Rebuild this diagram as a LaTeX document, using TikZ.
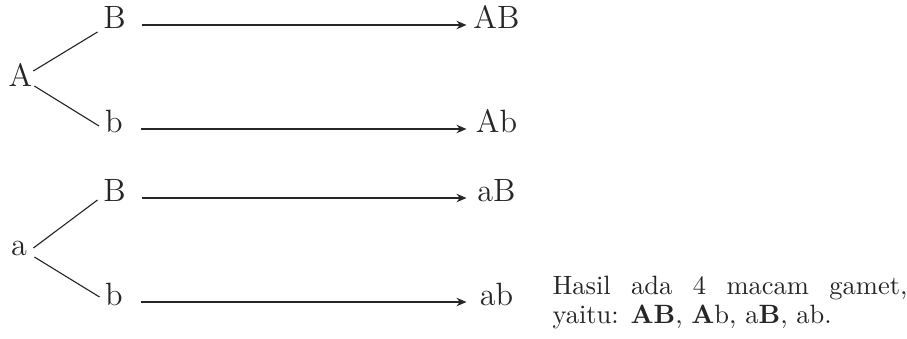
\documentclass[tikz,border=0pt]{standalone}
\usepackage{tikz}
\usetikzlibrary{arrows.meta}

\begin{document}
\begin{tikzpicture}[
  x=0.4pt, y=0.4pt,
  lbl/.style={font=\fontsize{12.9pt}{15pt}\selectfont, inner sep=0pt, anchor=base, text=black!85},
  src/.style={lbl, minimum width=21.2pt},
  gam/.style={lbl, minimum width=23.6pt},
  garis/.style={draw=black!85, line width=0.45pt},
  >={Stealth[length=4pt, width=3.4pt]}
]
\useasboundingbox (0,0) rectangle (907,-339);

% Induk A dan a
\node[lbl] (A) at (20.5,-87) {A};
\node[src] (B1) at (114.5,-29) {B};
\node[src] (b1) at (114,-133) {b};
\node[gam] (AB) at (496.5,-29) {AB};
\node[gam] (Ab) at (496.5,-133) {Ab};

\node[lbl] (a) at (19,-255) {a};
\node[src] (B2) at (114.5,-202) {B};
\node[src] (b2) at (114,-306) {b};
\node[gam] (aB) at (496.5,-202) {aB};
\node[gam] (ab) at (496.5,-306) {ab};

% Cabang
\draw[garis] ([shift={(0.5,16)}]A.base east) -- ([shift={(10,-3)}]B1.base west);
\draw[garis] ([shift={(1.5,1)}]A.base east) -- ([shift={(12,7)}]b1.base west);
\draw[garis] ([shift={(6,7)}]a.base east) -- ([shift={(10,2)}]B2.base west);
\draw[garis] ([shift={(7,-2)}]a.base east) -- ([shift={(12.5,9)}]b2.base west);

% Gamet
\draw[garis, ->] ([yshift=1.6pt]B1.base east) -- ([yshift=1.6pt]AB.base west);
\draw[garis, ->] ([yshift=1.6pt]b1.base east) -- ([yshift=1.6pt]Ab.base west);
\draw[garis, ->] ([yshift=1.6pt]B2.base east) -- ([yshift=1.6pt]aB.base west);
\draw[garis, ->] ([yshift=1.6pt]b2.base east) -- ([yshift=1.6pt]ab.base west);

% Keterangan
\node[anchor=north west, inner sep=0pt, align=left, text=black!85,
  font=\fontsize{10.6pt}{11.4pt}\selectfont] (hasil) at (552,-276)
  {\makebox[142pt][s]{Hasil ada 4 macam gamet,}\\
   yaitu: \textbf{AB}, \textbf{A}b, a\textbf{B}, ab.};
\end{tikzpicture}
\end{document}
